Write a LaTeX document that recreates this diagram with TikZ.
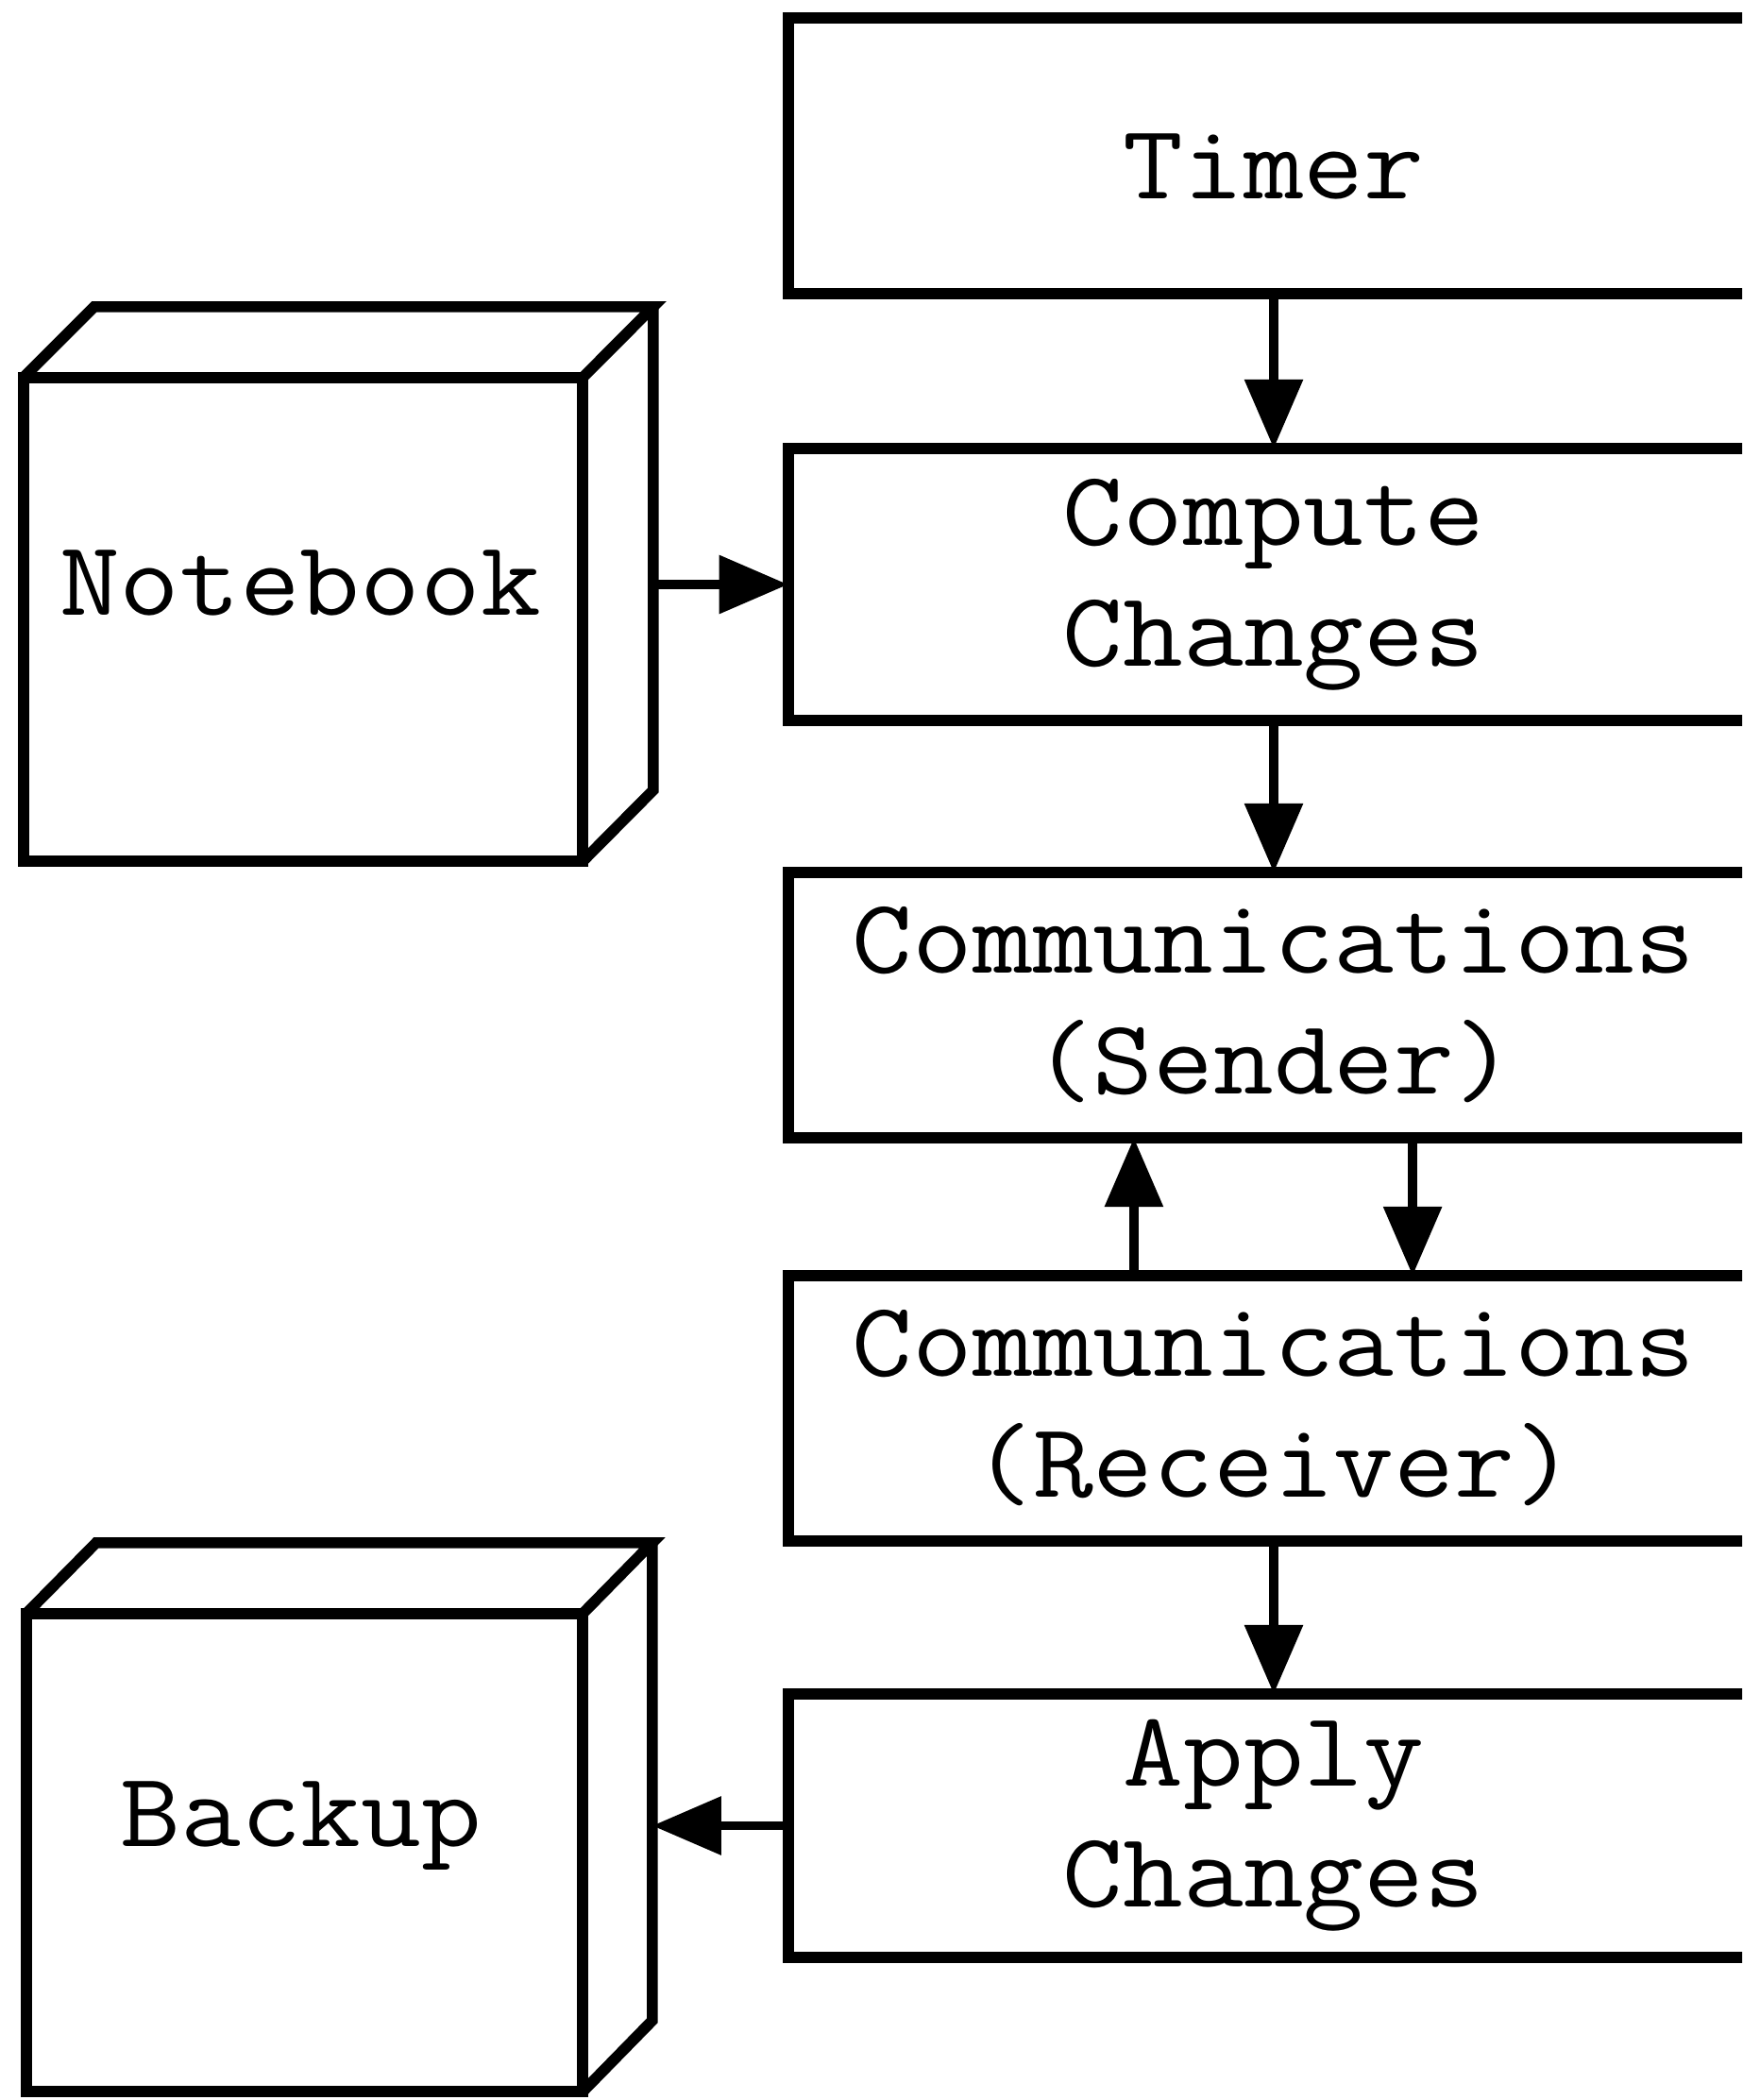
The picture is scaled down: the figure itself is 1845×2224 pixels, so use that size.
\documentclass[tikz,border=0pt]{standalone}
\usepackage{graphicx}
\usetikzlibrary{arrows.meta}

% Typewriter labels, slightly widened
\newcommand\labelfont{\ttfamily\fontsize{32}{36.4}\selectfont}
\newcommand\wide[1]{\scalebox{1.1}[1]{#1}}

\tikzset{
  flowbox/.style={draw, line width=3.3pt, outer sep=0pt, inner sep=0pt,
    minimum width=10.28cm, align=center, font=\labelfont},
  cubeface/.style={draw, line width=3.3pt, outer sep=0pt, inner sep=0pt},
  cubeline/.style={line width=3.3pt, line join=miter},
  cubetext/.style={inner sep=0pt, font=\labelfont},
  link/.style={line width=2.7pt, -{Triangle[length=0.73cm,width=0.6cm]}}
}

\begin{document}
\begin{tikzpicture}[x=0.01cm, y=-0.01cm]
  \useasboundingbox (0,0) rectangle (1845,2224);
  \clip (0,0) rectangle (1845,2224);
  \fill[white] (0,0) rectangle (1845,2224);

  % processing chain
  \node[flowbox, minimum height=2.92cm] (timer)    at (1349,165)
    {\raisebox{-0.11cm}[\height][\depth]{\wide{Timer}}};
  \node[flowbox, minimum height=2.88cm] (compute)  at (1349,619)    {\wide{Compute}\\\wide{Changes}};
  \node[flowbox, minimum height=2.81cm] (sender)   at (1349,1064.5) {\wide{Communications}\\\wide{(Sender)}};
  \node[flowbox, minimum height=2.81cm] (receiver) at (1349,1491.5) {\wide{Communications}\\\wide{(Receiver)}};
  \node[flowbox, minimum height=2.79cm] (apply)    at (1349,1933.5) {\wide{Apply}\\\wide{Changes}};

  % Notebook cube
  \node[cubeface, minimum width=5.92cm, minimum height=5.12cm] (notebook) at (321,656) {};
  \draw[cubeline] (notebook.north west) -- ++(75,-75) -- ++(592,0) coordinate (nbback)
    -- (notebook.north east);
  \draw[cubeline] (nbback) -- ++(0,512) -- (notebook.south east);
  \node[cubetext] (notebooktext) at (318,617) {\wide{Notebook}};

  % Backup cube
  \node[cubeface, minimum width=5.89cm, minimum height=5.06cm] (backup) at (322.5,1962) {};
  \draw[cubeline] (backup.north west) -- ++(74,-75) -- ++(589,0) coordinate (bkback)
    -- (backup.north east);
  \draw[cubeline] (bkback) -- ++(0,506) -- (backup.south east);
  \node[cubetext] (backuptext) at (319,1934) {\wide{Backup}};

  % connectors
  \draw[link] (timer) -- (compute);
  \draw[link] (compute) -- (sender);
  \draw[link] ([xshift=-1.48cm]receiver.north) -- ([xshift=-1.48cm]sender.south);
  \draw[link] ([xshift=1.47cm]sender.south) -- ([xshift=1.47cm]receiver.north);
  \draw[link] (receiver) -- (apply);
  \draw[link] (nbback |- compute.west) -- (compute.west);
  \draw[link] (apply.west) -- (bkback |- apply.west);
\end{tikzpicture}
\end{document}
